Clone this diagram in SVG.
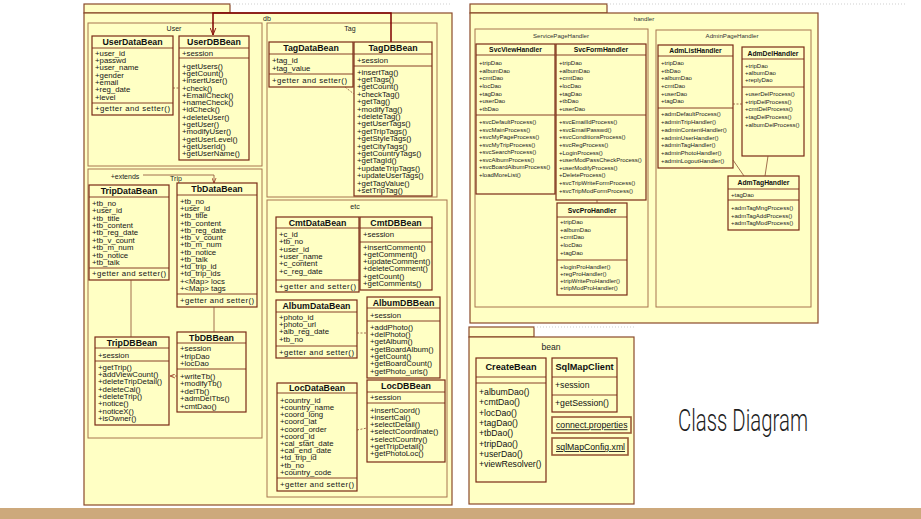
<svg xmlns="http://www.w3.org/2000/svg" width="921" height="519" viewBox="0 0 921 519">
<defs>
<style>
.pk{fill:#ffffc4;stroke:#a8754f;stroke-width:1}
.po{fill:#ffffc4;stroke:#8a4a2a;stroke-width:1.2}
.cl{fill:#ffffc4;stroke:#7b2b16;stroke-width:1.2}
.dv{fill:none;stroke:#7b2b16;stroke-width:0.9}
.t{font-family:"Liberation Sans",Arial,sans-serif;font-size:7.8px;fill:#151515}
.h{font-family:"Liberation Sans",Arial,sans-serif;font-size:8.8px;font-weight:bold;fill:#111;text-anchor:middle}
.s{font-family:"Liberation Sans",Arial,sans-serif;font-size:6px;fill:#222}
.hs{font-family:"Liberation Sans",Arial,sans-serif;font-size:6.8px;font-weight:bold;fill:#111;text-anchor:middle}
.pl{font-family:"Liberation Sans",Arial,sans-serif;font-size:7px;fill:#222;text-anchor:middle}
.ps{font-family:"Liberation Sans",Arial,sans-serif;font-size:6.1px;fill:#333;text-anchor:middle}
.bt{font-family:"Liberation Sans",Arial,sans-serif;font-size:8.7px;fill:#111}
.bh{font-family:"Liberation Sans",Arial,sans-serif;font-size:9.2px;font-weight:bold;fill:#111;text-anchor:middle}
.cn{fill:none;stroke:#8a4a30;stroke-width:0.8}
.dash{stroke-dasharray:2 1.5}
.dot{fill:none;stroke:#cfcfcf;stroke-width:1;stroke-dasharray:1 2}
.u{text-decoration:underline}
</style>
<marker id="arr" markerUnits="userSpaceOnUse" viewBox="0 0 10 10" refX="10" refY="5" markerWidth="7" markerHeight="7" orient="auto"><path d="M0 1L10 5L0 9" fill="none" stroke="#8b1a10" stroke-width="1.4"/></marker>
<marker id="arrs" markerUnits="userSpaceOnUse" viewBox="0 0 10 10" refX="10" refY="5" markerWidth="5" markerHeight="5" orient="auto"><path d="M0 1L10 5L0 9" fill="none" stroke="#8b1a10" stroke-width="1.4"/></marker>
</defs>
<rect x="0" y="0" width="921" height="519" fill="#ffffff"/>
<rect x="0" y="508" width="921" height="11" fill="#cda97c"/>

<!-- db package -->
<g id="pkg-db">
<rect class="po" x="84" y="4" width="146" height="9"/>
<rect class="po" x="84" y="13" width="368" height="492"/>
<path class="dot" d="M230 4H452"/>
<text class="pl" x="267" y="20.5">db</text>
</g>
<g id="pkg-User"><rect class="pk" x="88" y="23" width="174" height="143"/><text class="pl" x="174" y="31">User</text></g>
<g id="pkg-Tag"><rect class="pk" x="267" y="23" width="170" height="174"/><text class="pl" x="350" y="31">Tag</text></g>
<g id="pkg-Trip"><rect class="pk" x="88" y="169" width="174" height="269"/><text class="pl" x="176" y="180.8">Trip</text></g>
<g id="pkg-etc"><rect class="pk" x="267" y="200" width="180" height="297"/><text class="pl" x="355" y="208.5">etc</text></g>

<g id="UserDataBean">
<rect class="cl" x="92" y="36" width="81" height="79"/>
<path class="dv" d="M92 48H173M92 103H173"/>
<text class="h" x="132.5" y="45">UserDataBean</text>
<text class="t" y="55.8"><tspan x="95">+user_id</tspan><tspan x="95" dy="7.3">+passwd</tspan><tspan x="95" dy="7.3">+user_name</tspan><tspan x="95" dy="7.3">+gender</tspan><tspan x="95" dy="7.3">+email</tspan><tspan x="95" dy="7.3">+reg_date</tspan><tspan x="95" dy="7.3">+level</tspan></text>
<text class="t" x="95" y="111" textLength="75" lengthAdjust="spacing">+getter and setter()</text>
</g>
<g id="UserDBBean">
<rect class="cl" x="179" y="36" width="70" height="124"/>
<path class="dv" d="M179 48H249M179 58H249"/>
<text class="h" x="214" y="45">UserDBBean</text>
<text class="t" x="182" y="56.3">+session</text>
<text class="t" y="68.8"><tspan x="182">+getUsers()</tspan><tspan x="182" dy="7.27">+getCount()</tspan><tspan x="182" dy="7.27">+insertUser()</tspan><tspan x="182" dy="7.27">+check()</tspan><tspan x="182" dy="7.27">+EmailCheck()</tspan><tspan x="182" dy="7.27">+nameCheck()</tspan><tspan x="182" dy="7.27">+idCheck()</tspan><tspan x="182" dy="7.27">+deleteUser()</tspan><tspan x="182" dy="7.27">+getUser()</tspan><tspan x="182" dy="7.27">+modifyUser()</tspan><tspan x="182" dy="7.27">+getUserLevel()</tspan><tspan x="182" dy="7.27">+getUserId()</tspan><tspan x="182" dy="7.27">+getUserName()</tspan></text>
</g>

<g id="TagDataBean">
<rect class="cl" x="269" y="42" width="84" height="45"/>
<path class="dv" d="M269 54H353M269 74H353"/>
<text class="h" x="311" y="51">TagDataBean</text>
<text class="t" y="63.2"><tspan x="272">+tag_id</tspan><tspan x="272" dy="7.4">+tag_value</tspan></text>
<text class="t" x="272" y="83.3" textLength="75" lengthAdjust="spacing">+getter and setter()</text>
</g>
<g id="TagDBBean">
<rect class="cl" x="354" y="42" width="78" height="154"/>
<path class="dv" d="M354 54H432M354 66H432"/>
<text class="h" x="393" y="51">TagDBBean</text>
<text class="t" x="357" y="62.8">+session</text>
<text class="t" y="74.5"><tspan x="357">+insertTag()</tspan><tspan x="357" dy="7.4">+getTags()</tspan><tspan x="357" dy="7.4">+getCount()</tspan><tspan x="357" dy="7.4">+checkTag()</tspan><tspan x="357" dy="7.4">+getTag()</tspan><tspan x="357" dy="7.4">+modifyTag()</tspan><tspan x="357" dy="7.4">+deleteTag()</tspan><tspan x="357" dy="7.4">+getUserTags()</tspan><tspan x="357" dy="7.4">+getTripTags()</tspan><tspan x="357" dy="7.4">+getStyleTags()</tspan><tspan x="357" dy="7.4">+getCityTags()</tspan><tspan x="357" dy="7.4">+getCountryTags()</tspan><tspan x="357" dy="7.4">+getTagId()</tspan><tspan x="357" dy="7.4">+updateTripTags()</tspan><tspan x="357" dy="7.4">+updateUserTags()</tspan><tspan x="357" dy="7.4">+getTagValue()</tspan><tspan x="357" dy="7.4">+setTripTag()</tspan></text>
</g>

<g id="TripDataBean">
<rect class="cl" x="89" y="185" width="80" height="95"/>
<path class="dv" d="M89 197H169M89 268H169"/>
<text class="h" x="129" y="194">TripDataBean</text>
<text class="t" y="205.8"><tspan x="92">+tb_no</tspan><tspan x="92" dy="7.4">+user_id</tspan><tspan x="92" dy="7.4">+tb_title</tspan><tspan x="92" dy="7.4">+tb_content</tspan><tspan x="92" dy="7.4">+tb_reg_date</tspan><tspan x="92" dy="7.4">+tb_v_count</tspan><tspan x="92" dy="7.4">+tb_m_num</tspan><tspan x="92" dy="7.4">+tb_notice</tspan><tspan x="92" dy="7.4">+tb_talk</tspan></text>
<text class="t" x="92" y="276.3" textLength="74" lengthAdjust="spacing">+getter and setter()</text>
</g>
<g id="TbDataBean">
<rect class="cl" x="177" y="183" width="80" height="124"/>
<path class="dv" d="M177 195H257M177 294H257"/>
<text class="h" x="217" y="192">TbDataBean</text>
<text class="t" y="203.8"><tspan x="180">+tb_no</tspan><tspan x="180" dy="7.25">+user_id</tspan><tspan x="180" dy="7.25">+tb_title</tspan><tspan x="180" dy="7.25">+tb_content</tspan><tspan x="180" dy="7.25">+tb_reg_date</tspan><tspan x="180" dy="7.25">+tb_v_count</tspan><tspan x="180" dy="7.25">+tb_m_num</tspan><tspan x="180" dy="7.25">+tb_notice</tspan><tspan x="180" dy="7.25">+tb_talk</tspan><tspan x="180" dy="7.25">+td_trip_id</tspan><tspan x="180" dy="7.25">+td_trip_ids</tspan><tspan x="180" dy="7.25">+&lt;Map&gt; locs</tspan><tspan x="180" dy="7.25">+&lt;Map&gt; tags</tspan></text>
<text class="t" x="180" y="303.3" textLength="74" lengthAdjust="spacing">+getter and setter()</text>
</g>
<g id="TripDBBean">
<rect class="cl" x="95" y="337" width="74" height="88"/>
<path class="dv" d="M95 348H169M95 361H169"/>
<text class="h" x="132" y="345.5">TripDBBean</text>
<text class="t" x="98" y="357.6">+session</text>
<text class="t" y="369.8"><tspan x="98">+getTrip()</tspan><tspan x="98" dy="7.3">+addViewCount()</tspan><tspan x="98" dy="7.3">+deleteTripDetail()</tspan><tspan x="98" dy="7.3">+deleteCal()</tspan><tspan x="98" dy="7.3">+deleteTrip()</tspan><tspan x="98" dy="7.3">+notice()</tspan><tspan x="98" dy="7.3">+noticeX()</tspan><tspan x="98" dy="7.3">+isOwner()</tspan></text>
</g>
<g id="TbDBBean">
<rect class="cl" x="177" y="332" width="69" height="80"/>
<path class="dv" d="M177 343H246M177 369H246"/>
<text class="h" x="211.5" y="340.5">TbDBBean</text>
<text class="t" y="351.4"><tspan x="180">+session</tspan><tspan x="180" dy="7.35">+tripDao</tspan><tspan x="180" dy="7.35">+locDao</tspan></text>
<text class="t" y="378.8"><tspan x="180">+writeTb()</tspan><tspan x="180" dy="7.5">+modifyTb()</tspan><tspan x="180" dy="7.5">+delTb()</tspan><tspan x="180" dy="7.5">+admDelTbs()</tspan><tspan x="180" dy="7.5">+cmtDao()</tspan></text>
</g>

<g id="CmtDataBean">
<rect class="cl" x="276" y="217" width="83" height="75"/>
<path class="dv" d="M276 228H359M276 280H359"/>
<text class="h" x="317.5" y="225.5">CmtDataBean</text>
<text class="t" y="236.8"><tspan x="279">+c_id</tspan><tspan x="279" dy="7.4">+tb_no</tspan><tspan x="279" dy="7.4">+user_id</tspan><tspan x="279" dy="7.4">+user_name</tspan><tspan x="279" dy="7.4">+c_content</tspan><tspan x="279" dy="7.4">+c_reg_date</tspan></text>
<text class="t" x="279" y="288.8" textLength="77" lengthAdjust="spacing">+getter and setter()</text>
</g>
<g id="CmtDBBean">
<rect class="cl" x="360" y="217" width="72" height="73"/>
<path class="dv" d="M360 228H432M360 242H432"/>
<text class="h" x="396" y="225.5">CmtDBBean</text>
<text class="t" x="363" y="237.2">+session</text>
<text class="t" y="249.8"><tspan x="363">+insertComment()</tspan><tspan x="363" dy="7.2">+getComment()</tspan><tspan x="363" dy="7.2">+updateComment()</tspan><tspan x="363" dy="7.2">+deleteComment()</tspan><tspan x="363" dy="7.2">+getCount()</tspan><tspan x="363" dy="7.2">+getComments()</tspan></text>
</g>
<g id="AlbumDataBean">
<rect class="cl" x="276" y="300" width="81" height="58"/>
<path class="dv" d="M276 312H357M276 346H357"/>
<text class="h" x="316.5" y="309">AlbumDataBean</text>
<text class="t" y="319.8"><tspan x="279">+photo_id</tspan><tspan x="279" dy="7.3">+photo_url</tspan><tspan x="279" dy="7.3">+alb_reg_date</tspan><tspan x="279" dy="7.3">+tb_no</tspan></text>
<text class="t" x="279" y="354.8" textLength="75" lengthAdjust="spacing">+getter and setter()</text>
</g>
<g id="AlbumDBBean">
<rect class="cl" x="367" y="297" width="73" height="81"/>
<path class="dv" d="M367 308H440M367 321H440"/>
<text class="h" x="403.5" y="305.5">AlbumDBBean</text>
<text class="t" x="370" y="317.6">+session</text>
<text class="t" y="329.8"><tspan x="370">+addPhoto()</tspan><tspan x="370" dy="7.3">+delPhoto()</tspan><tspan x="370" dy="7.3">+getAlbum()</tspan><tspan x="370" dy="7.3">+getBoardAlbum()</tspan><tspan x="370" dy="7.3">+getCount()</tspan><tspan x="370" dy="7.3">+getBoardCount()</tspan><tspan x="370" dy="7.3">+getPhoto_urls()</tspan></text>
</g>
<g id="LocDataBean">
<rect class="cl" x="277" y="383" width="80" height="108"/>
<path class="dv" d="M277 393H357M277 478H357"/>
<text class="h" x="317" y="391">LocDataBean</text>
<text class="t" y="402.8"><tspan x="280">+country_id</tspan><tspan x="280" dy="7.2">+country_name</tspan><tspan x="280" dy="7.2">+coord_long</tspan><tspan x="280" dy="7.2">+coord_lat</tspan><tspan x="280" dy="7.2">+coord_order</tspan><tspan x="280" dy="7.2">+coord_id</tspan><tspan x="280" dy="7.2">+cal_start_date</tspan><tspan x="280" dy="7.2">+cal_end_date</tspan><tspan x="280" dy="7.2">+td_trip_id</tspan><tspan x="280" dy="7.2">+tb_no</tspan><tspan x="280" dy="7.2">+country_code</tspan></text>
<text class="t" x="280" y="487.3" textLength="74" lengthAdjust="spacing">+getter and setter()</text>
</g>
<g id="LocDBBean">
<rect class="cl" x="367" y="380" width="78" height="82"/>
<path class="dv" d="M367 392H445M367 403H445"/>
<text class="h" x="406" y="389">LocDBBean</text>
<text class="t" x="370" y="400.3">+session</text>
<text class="t" y="412.8"><tspan x="370">+insertCoord()</tspan><tspan x="370" dy="7.2">+insertCal()</tspan><tspan x="370" dy="7.2">+selectDetail()</tspan><tspan x="370" dy="7.2">+selectCoordinate()</tspan><tspan x="370" dy="7.2">+selectCountry()</tspan><tspan x="370" dy="7.2">+getTripDetail()</tspan><tspan x="370" dy="7.2">+getPhotoLoc()</tspan></text>
</g>

<!-- handler package -->
<g id="pkg-handler">
<rect class="po" x="470" y="4" width="137" height="9"/>
<rect class="po" x="470" y="13" width="348" height="310"/>
<path class="dot" d="M607 4H907"/>
<text class="ps" x="644" y="21">handler</text>
</g>
<g id="pkg-ServicePageHandler"><rect class="pk" x="475" y="29" width="173" height="278"/><text class="ps" x="561" y="38.2">ServicePageHandler</text></g>
<g id="pkg-AdminPageHandler"><rect class="pk" x="656" y="30" width="155" height="277"/><text class="ps" x="732" y="38.2">AdminPageHandler</text></g>

<g id="SvcViewHandler">
<rect class="cl" x="476" y="44" width="79" height="150"/>
<path class="dv" d="M476 55H555M476 115H555"/>
<text class="hs" x="515.5" y="52">SvcViewHandler</text>
<text class="s" y="65.1"><tspan x="479">+tripDao</tspan><tspan x="479" dy="7.65">+albumDao</tspan><tspan x="479" dy="7.65">+cmtDao</tspan><tspan x="479" dy="7.65">+locDao</tspan><tspan x="479" dy="7.65">+tagDao</tspan><tspan x="479" dy="7.65">+userDao</tspan><tspan x="479" dy="7.65">+tbDao</tspan></text>
<text class="s" y="124.1"><tspan x="479">+svcDefaultProcess()</tspan><tspan x="479" dy="7.5">+svcMainProcess()</tspan><tspan x="479" dy="7.5">+svcMyPageProcess()</tspan><tspan x="479" dy="7.5">+svcMyTripProcess()</tspan><tspan x="479" dy="7.5">+svcSearchProcess()</tspan><tspan x="479" dy="7.5">+svcAlbumProcess()</tspan><tspan x="479" dy="7.5">+svcBoardAlbumProcess()</tspan><tspan x="479" dy="7.5">+loadMoreList()</tspan></text>
</g>
<g id="SvcFormHandler">
<rect class="cl" x="556" y="44" width="90" height="156"/>
<path class="dv" d="M556 55H646M556 115H646"/>
<text class="hs" x="601" y="52">SvcFormHandler</text>
<text class="s" y="65.1"><tspan x="559">+tripDao</tspan><tspan x="559" dy="7.65">+albumDao</tspan><tspan x="559" dy="7.65">+cmtDao</tspan><tspan x="559" dy="7.65">+locDao</tspan><tspan x="559" dy="7.65">+tagDao</tspan><tspan x="559" dy="7.65">+tbDao</tspan><tspan x="559" dy="7.65">+userDao</tspan></text>
<text class="s" y="124.1"><tspan x="559">+svcEmailIdProcess()</tspan><tspan x="559" dy="7.6">+svcEmailPasswd()</tspan><tspan x="559" dy="7.6">+svcConditionsProcess()</tspan><tspan x="559" dy="7.6">+svcRegProcess()</tspan><tspan x="559" dy="7.6">+LoginProcess()</tspan><tspan x="559" dy="7.6">+userModPassCheckProcess()</tspan><tspan x="559" dy="7.6">+userModifyProcess()</tspan><tspan x="559" dy="7.6">+DeleteProcess()</tspan><tspan x="559" dy="7.6">+svcTripWriteFormProcess()</tspan><tspan x="559" dy="7.6">+svcTripModFormProcess()</tspan></text>
</g>
<g id="SvcProHandler">
<rect class="cl" x="557" y="203" width="70" height="92"/>
<path class="dv" d="M557 217H627M557 260H627"/>
<text class="hs" x="592" y="213">SvcProHandler</text>
<text class="s" y="224.1"><tspan x="560">+tripDao</tspan><tspan x="560" dy="7.6">+albumDao</tspan><tspan x="560" dy="7.6">+cmtDao</tspan><tspan x="560" dy="7.6">+locDao</tspan><tspan x="560" dy="7.6">+tagDao</tspan></text>
<text class="s" y="269.1"><tspan x="560">+loginProHandler()</tspan><tspan x="560" dy="7.1">+regProHandler()</tspan><tspan x="560" dy="7.1">+tripWriteProHandler()</tspan><tspan x="560" dy="7.1">+tripModProHandler()</tspan></text>
</g>
<g id="AdmListHandler">
<rect class="cl" x="658" y="45" width="75" height="123"/>
<path class="dv" d="M658 56H733M658 108H733"/>
<text class="hs" x="695.5" y="53">AdmListHandler</text>
<text class="s" y="65.1"><tspan x="661">+tripDao</tspan><tspan x="661" dy="7.6">+tbDao</tspan><tspan x="661" dy="7.6">+albumDao</tspan><tspan x="661" dy="7.6">+cmtDao</tspan><tspan x="661" dy="7.6">+userDao</tspan><tspan x="661" dy="7.6">+tagDao</tspan></text>
<text class="s" y="116.1"><tspan x="661">+admDefaultProcess()</tspan><tspan x="661" dy="7.8">+adminTripHandler()</tspan><tspan x="661" dy="7.8">+adminContentHandler()</tspan><tspan x="661" dy="7.8">+adminUserHandler()</tspan><tspan x="661" dy="7.8">+adminTagHandler()</tspan><tspan x="661" dy="7.8">+adminPhotoHandler()</tspan><tspan x="661" dy="7.8">+adminLogoutHandler()</tspan></text>
</g>
<g id="AdmDelHandler">
<rect class="cl" x="742" y="47" width="62" height="109"/>
<path class="dv" d="M742 59H804M742 87H804"/>
<text class="hs" x="773" y="55.5">AdmDelHandler</text>
<text class="s" y="67.6"><tspan x="745">+tripDao</tspan><tspan x="745" dy="7.2">+albumDao</tspan><tspan x="745" dy="7.2">+replyDao</tspan></text>
<text class="s" y="96.1"><tspan x="745">+userDelProcess()</tspan><tspan x="745" dy="7.6">+tripDelProcess()</tspan><tspan x="745" dy="7.6">+cmtDelProcess()</tspan><tspan x="745" dy="7.6">+tagDelProcess()</tspan><tspan x="745" dy="7.6">+albumDelProcess()</tspan></text>
</g>
<g id="AdmTagHandler">
<rect class="cl" x="728" y="176" width="71" height="54"/>
<path class="dv" d="M728 189H799M728 200H799"/>
<text class="hs" x="763.5" y="185">AdmTagHandler</text>
<text class="s" x="731" y="197.1">+tagDao</text>
<text class="s" y="210.1"><tspan x="731">+admTagMngProcess()</tspan><tspan x="731" dy="7.5">+admTagAddProcess()</tspan><tspan x="731" dy="7.5">+admTagModProcess()</tspan></text>
</g>

<!-- bean package -->
<g id="pkg-bean">
<rect class="po" x="469" y="327" width="65" height="10"/>
<rect class="po" x="469" y="337" width="165" height="167"/>
<path class="dot" d="M534 327H634"/>
<text class="pl" x="551" y="350" style="font-size:8.6px">bean</text>
</g>
<g id="CreateBean">
<rect class="cl" x="476" y="358" width="70" height="124"/>
<path class="dv" d="M476 377H546M476 383H546"/>
<text class="bh" x="511" y="370.3">CreateBean</text>
<text class="bt" y="395.1"><tspan x="479">+albumDao()</tspan><tspan x="479" dy="10.3">+cmtDao()</tspan><tspan x="479" dy="10.3">+locDao()</tspan><tspan x="479" dy="10.3">+tagDao()</tspan><tspan x="479" dy="10.3">+tbDao()</tspan><tspan x="479" dy="10.3">+tripDao()</tspan><tspan x="479" dy="10.3">+userDao()</tspan><tspan x="479" dy="10.3">+viewResolver()</tspan></text>
</g>
<g id="SqlMapClient">
<rect class="cl" x="552" y="358" width="65" height="54"/>
<path class="dv" d="M552 377H617M552 395H617"/>
<text class="bh" x="584.5" y="370.3">SqlMapClient</text>
<text class="bt" x="555" y="388.2">+session</text>
<text class="bt" x="555" y="406.2">+getSession()</text>
</g>
<g id="connect-properties">
<rect x="552" y="417" width="79" height="16" fill="#ffffc4" stroke="#9a5a3a" stroke-width="1.6"/>
<text class="bt u" x="556" y="428.3">connect.properties</text>
</g>
<g id="sqlMapConfig-xml">
<rect x="552" y="438" width="76" height="17" fill="#ffffc4" stroke="#9a5a3a" stroke-width="1.6"/>
<text class="bt u" x="556" y="450">sqlMapConfig.xml</text>
</g>

<!-- connectors -->
<g id="connectors">
<path d="M391 42V13H213V35" fill="none" stroke="#800000" stroke-width="1.5" marker-end="url(#arr)"/>
<path class="cn dash" d="M173 88H179"/>
<path class="cn dash" d="M345 87L354 94"/>
<path class="cn" d="M143 175H214V183" marker-end="url(#arrs)"/>
<text class="pl" x="125" y="179">+extends</text>
<path class="cn" d="M131 280V337"/>
<path class="cn" d="M214 307V332"/>
<path class="cn dash" d="M177 376H170" marker-end="url(#arrs)"/>
<path class="cn dash" d="M357 333H367"/>
<path class="cn dash" d="M357 430L367 428"/>
<path class="cn" d="M597 200V203"/>
<path class="cn dash" d="M733 104H742"/>
<path class="cn" d="M733 160L744 176"/>
<path class="cn" d="M768 156L765 176"/>
</g>

<text x="678" y="431" font-family="Roboto, 'Liberation Sans', sans-serif" font-weight="300" font-size="31" textLength="130" lengthAdjust="spacingAndGlyphs" fill="#1e1e1e">Class Diagram</text>
</svg>
